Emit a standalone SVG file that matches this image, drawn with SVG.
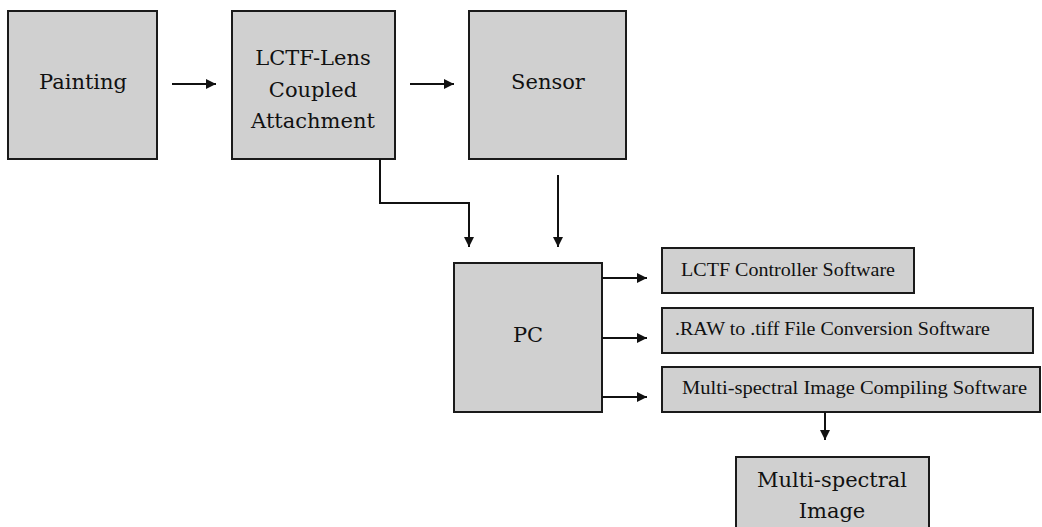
<svg xmlns="http://www.w3.org/2000/svg" width="1042" height="527" viewBox="0 0 1042 527">
<style>
.box{fill:#d0d0d0;stroke:#1a1a1a;stroke-width:2}
.t{font-family:"DejaVu Serif","Liberation Serif",serif;font-size:21px;fill:#111;text-anchor:middle}
.s{font-family:"Liberation Serif","DejaVu Serif",serif;font-size:18px;fill:#111}
.c{fill:none;stroke:#111;stroke-width:2;marker-end:url(#ah)}
</style>
<defs>
<marker id="ah" viewBox="0 0 10 10" refX="10" refY="5" markerWidth="5" markerHeight="5" orient="auto" markerUnits="strokeWidth">
<path d="M0,0 L10,5 L0,10 z" fill="#111"/>
</marker>
</defs>
<rect width="1042" height="527" fill="#fff"/>
<g id="painting"><rect class="box" x="8" y="11" width="149" height="148"/><text class="t" x="83" y="89">Painting</text></g>
<g id="lctf"><rect class="box" x="232" y="11" width="163" height="148"/><text class="t" x="313" y="65">LCTF-Lens</text><text class="t" x="313" y="97">Coupled</text><text class="t" x="313" y="128">Attachment</text></g>
<g id="sensor"><rect class="box" x="469" y="11" width="157" height="148"/><text class="t" x="548" y="89">Sensor</text></g>
<g id="pc"><rect class="box" x="454" y="263" width="148" height="149"/><text class="t" x="528" y="342">PC</text></g>
<g id="sw1"><rect class="box" x="662" y="248" width="252" height="45"/><text class="s" x="681" y="276" textLength="214" lengthAdjust="spacingAndGlyphs">LCTF Controller Software</text></g>
<g id="sw2"><rect class="box" x="662" y="308" width="371" height="45"/><text class="s" x="675" y="335" textLength="315" lengthAdjust="spacingAndGlyphs">.RAW to .tiff File Conversion Software</text></g>
<g id="sw3"><rect class="box" x="662" y="367" width="378" height="45"/><text class="s" x="682" y="394" textLength="345" lengthAdjust="spacingAndGlyphs">Multi-spectral Image Compiling Software</text></g>
<g id="image"><rect class="box" x="736" y="457" width="193" height="80"/><text class="t" x="832" y="487">Multi-spectral</text><text class="t" x="832" y="518">Image</text></g>
<g id="connectors">
<path class="c" d="M172,84 H216"/>
<path class="c" d="M410,84 H454"/>
<path class="c" d="M380,159 V203 H469 V247"/>
<path class="c" d="M558,175 V247"/>
<path class="c" d="M602,278 H647"/>
<path class="c" d="M602,338 H647"/>
<path class="c" d="M602,397 H647"/>
<path class="c" d="M825,412 V440"/>
</g>
</svg>
